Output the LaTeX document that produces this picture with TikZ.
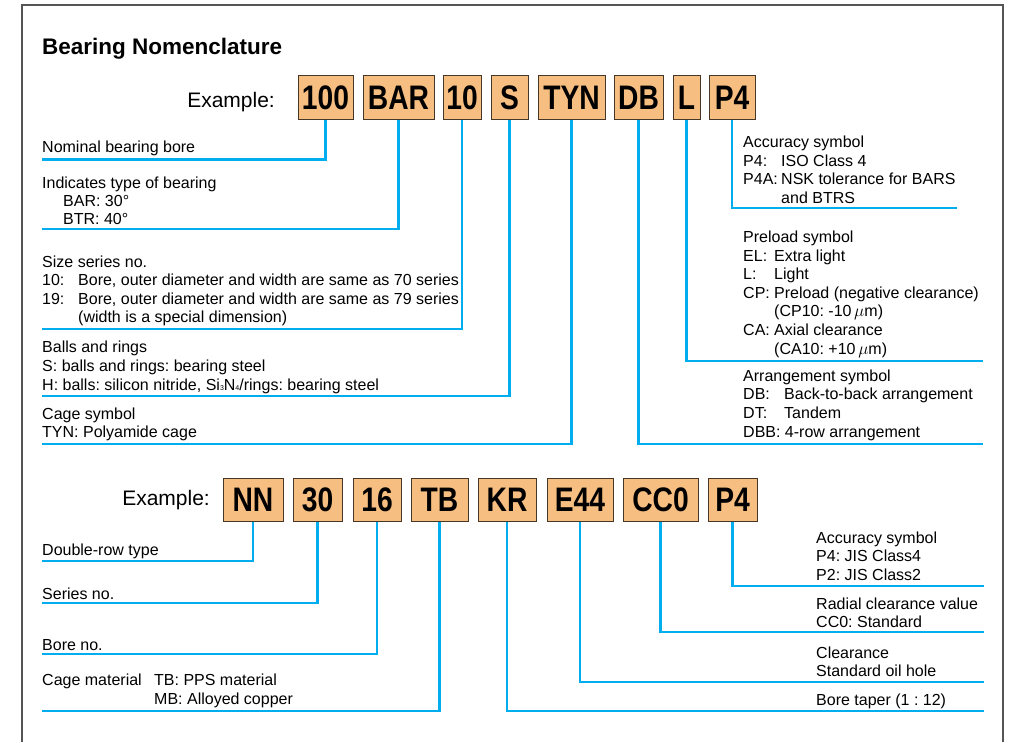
\documentclass[tikz,border=0pt]{standalone}
\usepackage{fontspec}
\setmainfont{Liberation Sans}
\newfontfamily\codefont[FakeStretch=0.83]{Liberation Sans}
\definecolor{cyanline}{RGB}{0,174,239}
\definecolor{boxfill}{RGB}{246,190,128}
\definecolor{boxline}{RGB}{70,55,40}
\definecolor{framegray}{RGB}{85,85,85}
\frenchspacing
\tikzset{
  codebox/.style={draw=boxline, line width=0.9pt, fill=boxfill, inner sep=0pt,
    minimum width=#1, minimum height=43.5pt,
    font=\codefont\bfseries\fontsize{34}{34}\selectfont},
  lbl/.style={anchor=base west, inner sep=0pt, font=\fontsize{16}{18.5}\selectfont},
  conn/.style={draw=cyanline, line width=2.6pt},
}
\begin{document}
\begin{tikzpicture}[x=1pt,y=-1pt]
\useasboundingbox (0,0) rectangle (1011,742);
% frame
\coordinate (fa) at (22,742);
\coordinate (fb) at (22,5);
\coordinate (fc) at (1003,5);
\coordinate (fd) at (1003,742);
\draw[framegray, line width=1.5pt] (fa) -- (fb) -- (fc) -- (fd);

% title
\node[anchor=base west, inner sep=0pt, font=\bfseries\fontsize{22.5}{22.5}\selectfont] (title) at (42,54) {Bearing Nomenclature};

% ---------- first example ----------
\node[anchor=base east, inner sep=0pt, font=\fontsize{21}{21}\selectfont] (ex1) at (275,107) {Example:};
\node[codebox=55pt] (t100) at (325.5,97.5) {100};
\node[codebox=71pt] (tBAR) at (398.5,97.5) {BAR};
\node[codebox=38pt] (t10) at (462,97.5) {10};
\node[codebox=37pt] (tS) at (509.5,97.5) {S};
\node[codebox=67pt] (tTYN) at (571.5,97.5) {TYN};
\node[codebox=49pt] (tDB) at (638.5,97.5) {DB};
\node[codebox=27pt] (tL) at (686.5,97.5) {L};
\node[codebox=46pt] (tP4) at (732,97.5) {P4};

\coordinate (e100) at (41.5,159.5);
\coordinate (eBAR) at (41.5,229);
\coordinate (e10) at (41.5,329);
\coordinate (eS) at (41.5,396);
\coordinate (eTYN) at (41.5,444);
\coordinate (eP4) at (957,208);
\coordinate (eL) at (983,361);
\coordinate (eDB) at (983,444);
\draw[conn] (t100.south) |- (e100);
\draw[conn] (tBAR.south) |- (eBAR);
\draw[conn] (t10.south) |- (e10);
\draw[conn] (tS.south) |- (eS);
\draw[conn] (tTYN.south) |- (eTYN);
\draw[conn] (tP4.south) |- (eP4);
\draw[conn] (tL.south) |- (eL);
\draw[conn] (tDB.south) |- (eDB);

% left texts
\node[lbl] (n1) at (42,152) {Nominal bearing bore};
\node[lbl] (b1) at (42,188) {Indicates type of bearing};
\node[lbl] (b2) at (42,206) {\hspace*{21pt}BAR: 30°};
\node[lbl] (b3) at (42,224) {\hspace*{21pt}BTR: 40°};
\node[lbl] (s1) at (42,267) {Size series no.};
\node[lbl] (s2) at (42,285.5) {\makebox[36pt][l]{10:}Bore, outer diameter and width are same as 70 series};
\node[lbl] (s3) at (42,304) {\makebox[36pt][l]{19:}Bore, outer diameter and width are same as 79 series};
\node[lbl] (s4) at (42,322.5) {\hspace*{36pt}(width is a special dimension)};
\node[lbl] (r1) at (42,352) {Balls and rings};
\node[lbl] (r2) at (42,371) {S: balls and rings: bearing steel};
\node[lbl] (r3) at (42,390) {H: balls: silicon nitride, Si\raisebox{-0.5pt}{\fontsize{7}{7}\selectfont 3}N\raisebox{-0.5pt}{\fontsize{7}{7}\selectfont 4}/rings: bearing steel};
\node[lbl] (c1) at (42,419) {Cage symbol};
\node[lbl] (c2) at (42,437.5) {TYN: Polyamide cage};

% right texts
\node[lbl] (a1) at (743,147) {Accuracy symbol};
\node[lbl] (a2) at (743,166) {\makebox[38pt][l]{P4:}ISO Class 4};
\node[lbl] (a3) at (743,184.5) {\makebox[38pt][l]{P4A:}NSK tolerance for BARS};
\node[lbl] (a4) at (743,203) {\hspace*{38pt}and BTRS};
\node[lbl] (p1) at (743,242) {Preload symbol};
\node[lbl] (p2) at (743,261) {\makebox[31pt][l]{EL:}Extra light};
\node[lbl] (p3) at (743,279.5) {\makebox[31pt][l]{L:}Light};
\node[lbl] (p4) at (743,298) {\makebox[31pt][l]{CP:}Preload (negative clearance)};
\node[lbl] (p5) at (743,316.5) {\hspace*{31pt}(CP10: -10\,$\mu$m)};
\node[lbl] (p6) at (743,335) {\makebox[31pt][l]{CA:}Axial clearance};
\node[lbl] (p7) at (743,354) {\hspace*{31pt}(CA10: +10\,$\mu$m)};
\node[lbl] (g1) at (743,381) {Arrangement symbol};
\node[lbl] (g2) at (743,399.5) {\makebox[41pt][l]{DB:}Back-to-back arrangement};
\node[lbl] (g3) at (743,418) {\makebox[41pt][l]{DT:}Tandem};
\node[lbl] (g4) at (743,437) {DBB: 4-row arrangement};

% ---------- second example ----------
\node[anchor=base east, inner sep=0pt, font=\fontsize{21}{21}\selectfont] (ex2) at (210,505) {Example:};
\node[codebox=60pt] (uNN) at (253,500) {NN};
\node[codebox=49pt] (u30) at (317.5,500) {30};
\node[codebox=48pt] (u16) at (377,500) {16};
\node[codebox=57pt] (uTB) at (439.5,500) {TB};
\node[codebox=58pt] (uKR) at (507,500) {KR};
\node[codebox=66pt] (uE44) at (580,500) {E44};
\node[codebox=75pt] (uCC0) at (660.5,500) {CC0};
\node[codebox=49pt] (uP4) at (732.5,500) {P4};

\coordinate (fNN) at (41.5,561);
\coordinate (f30) at (41.5,603);
\coordinate (f16) at (41.5,654);
\coordinate (fTB) at (41.5,711);
\coordinate (fKR) at (984,711);
\coordinate (fE44) at (984,682);
\coordinate (fCC0) at (984,632);
\coordinate (fP4) at (984,586);
\draw[conn] (uNN.south) |- (fNN);
\draw[conn] (u30.south) |- (f30);
\draw[conn] (u16.south) |- (f16);
\draw[conn] (uTB.south) |- (fTB);
\draw[conn] (uKR.south) |- (fKR);
\draw[conn] (uE44.south) |- (fE44);
\draw[conn] (uCC0.south) |- (fCC0);
\draw[conn] (uP4.south) |- (fP4);

\node[lbl] (d1) at (42,555) {Double-row type};
\node[lbl] (d2) at (42,599) {Series no.};
\node[lbl] (d3) at (42,650.5) {Bore no.};
\node[lbl] (d4) at (42,685.5) {\makebox[112pt][l]{Cage material}TB: PPS material};
\node[lbl] (d5) at (42,704) {\hspace*{112pt}MB: Alloyed copper};

\node[lbl] (k1) at (816,543) {Accuracy symbol};
\node[lbl] (k2) at (816,561.5) {P4: JIS Class4};
\node[lbl] (k3) at (816,580) {P2: JIS Class2};
\node[lbl] (k4) at (816,609) {Radial clearance value};
\node[lbl] (k5) at (816,627.5) {CC0: Standard};
\node[lbl] (k6) at (816,658) {Clearance};
\node[lbl] (k7) at (816,676.5) {Standard oil hole};
\node[lbl] (k8) at (816,705) {Bore taper (1 : 12)};
\end{tikzpicture}
\end{document}
